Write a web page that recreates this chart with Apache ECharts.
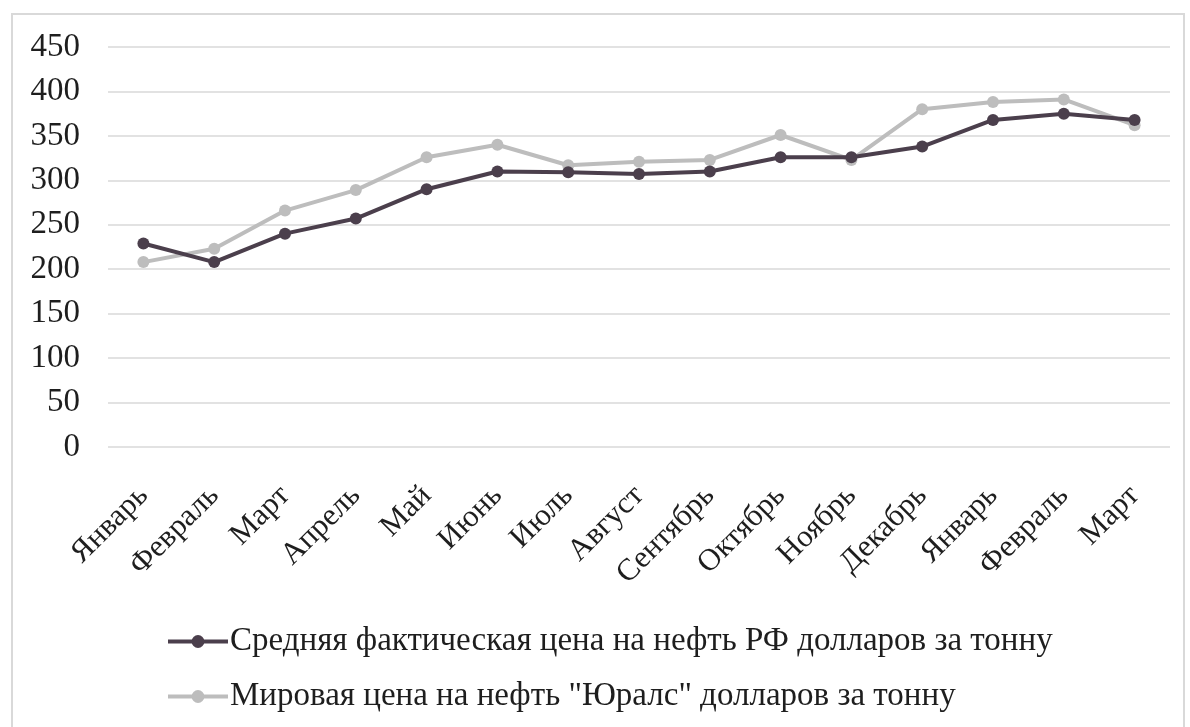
<!DOCTYPE html>
<html>
<head>
<meta charset="utf-8">
<script src="https://cdn.jsdelivr.net/npm/echarts@6/dist/echarts.min.js"></script>
<style>
  html, body { margin: 0; padding: 0; background: #fff; }
  #chart { width: 1190px; height: 727px; }
</style>
</head>
<body>
<div id="chart"></div>
<script>
const months = ['Январь', 'Февраль', 'Март', 'Апрель', 'Май', 'Июнь', 'Июль', 'Август',
  'Сентябрь', 'Октябрь', 'Ноябрь', 'Декабрь', 'Январь', 'Февраль', 'Март'];

const seriesNames = [
  'Средняя фактическая цена на нефть РФ долларов за тонну',
  'Мировая цена на нефть "Юралс" долларов за тонну'
];

// средняя фактическая цена РФ
const rfPrice = [229, 208, 240, 257, 290, 310, 309, 307, 310, 326, 326, 338, 368, 375, 368];
// мировая цена Юралс
const uralsPrice = [208, 223, 266, 289, 326, 340, 317, 321, 323, 351, 323, 380, 388, 391, 362];

const font = '"Liberation Serif", "DejaVu Serif", serif';

const chart = echarts.init(document.getElementById('chart'));

const option = {
  animation: false,
  backgroundColor: '#fff',
  textStyle: { fontFamily: font },
  graphic: [{
    type: 'rect',
    shape: { x: 12, y: 14, width: 1172, height: 730 },
    style: { fill: 'none', stroke: '#d9d9d9', lineWidth: 2 },
    silent: true
  }],
  grid: {
    left: 108,
    right: 20,
    top: 47,
    bottom: 280
  },
  xAxis: {
    type: 'category',
    data: months,
    boundaryGap: true,
    axisLine: { show: false },
    axisTick: { show: false },
    axisLabel: {
      rotate: 45,
      interval: 0,
      margin: 44,
      fontSize: 31,
      color: '#1e1e1e',
      fontFamily: font
    }
  },
  yAxis: {
    type: 'value',
    min: 0,
    max: 450,
    interval: 50,
    axisLine: { show: false },
    axisTick: { show: false },
    axisLabel: {
      margin: 28,
      fontSize: 33,
      color: '#1e1e1e',
      fontFamily: font
    },
    splitLine: { lineStyle: { color: '#d9d9d9', width: 1.5 } }
  },
  legend: {
    orient: 'vertical',
    left: 166,
    top: 625,
    padding: 0,
    itemWidth: 60,
    itemHeight: 16,
    itemGap: 22,
    lineStyle: { width: 4 },
    textStyle: { fontSize: 33, color: '#1e1e1e', fontFamily: font, padding: [0, 0, 0, -3] },
    data: seriesNames
  },
  series: [
    {
      name: seriesNames[0],
      type: 'line',
      data: rfPrice,
      symbol: 'circle',
      symbolSize: 12,
      color: '#4b3f4c',
      lineStyle: { width: 4, color: '#4b3f4c' },
      itemStyle: { color: '#4b3f4c' },
      z: 3
    },
    {
      name: seriesNames[1],
      type: 'line',
      data: uralsPrice,
      symbol: 'circle',
      symbolSize: 12,
      color: '#bdbdbd',
      lineStyle: { width: 4, color: '#bdbdbd' },
      itemStyle: { color: '#bdbdbd' },
      z: 2
    }
  ]
};

chart.setOption(option);
</script>
</body>
</html>
